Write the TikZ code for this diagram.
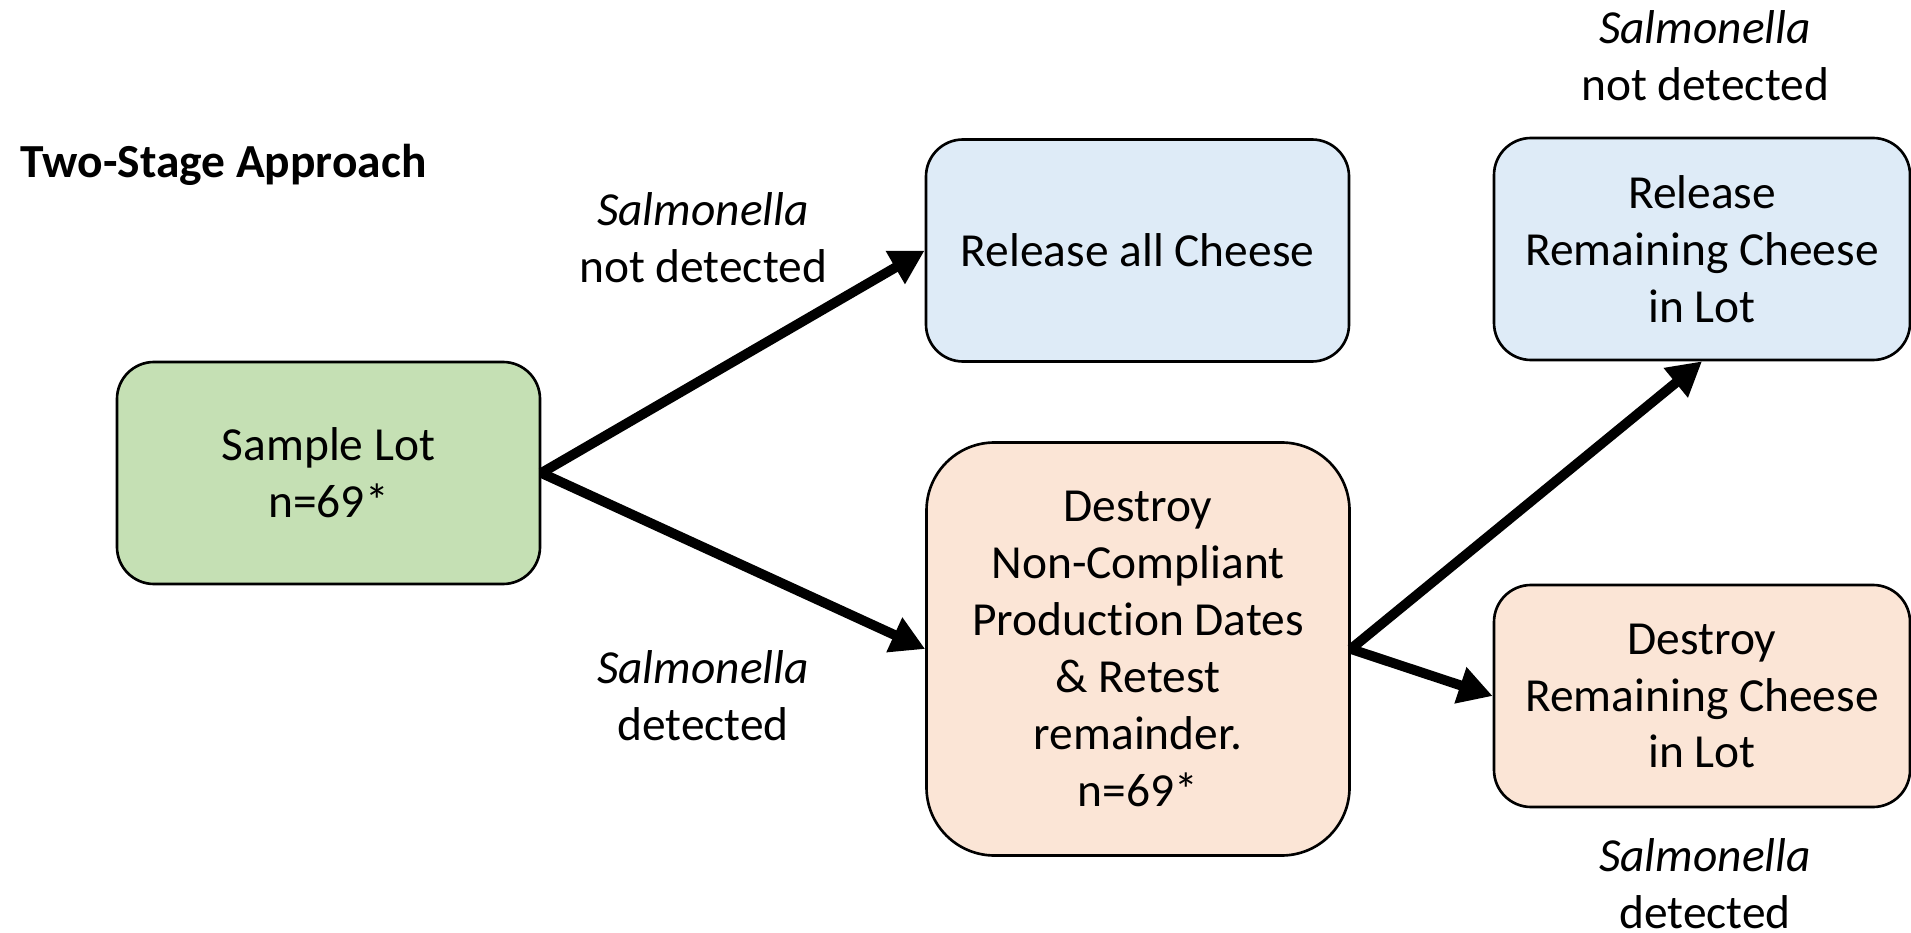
\documentclass[tikz,border=0pt]{standalone}
\usepackage{fontspec}
\setmainfont{Carlito}[Ligatures=NoCommon]
\usepackage{xcolor}
\usetikzlibrary{arrows.meta, positioning}
\definecolor{lotgreen}{HTML}{C5E0B4}
\definecolor{relblue}{HTML}{DEEBF7}
\definecolor{despeach}{HTML}{FBE5D6}

\begin{document}
\begin{tikzpicture}[
  font=\fontsize{13.5}{16.2}\selectfont,
  box/.style={draw=black, line width=0.75pt, rounded corners=0.37cm, align=center,
    inner sep=0pt, minimum width=4.23cm, minimum height=2.22cm},
  flow/.style={line width=2.8pt, -{Triangle[length=0.34cm, width=0.36cm]}},
  result/.style={align=center, inner sep=0pt}
]
  \useasboundingbox (0,0) rectangle (19.11,-9.33);

  % title
  \node[anchor=west, inner sep=0pt, font=\fontsize{13.5}{16.2}\selectfont\bfseries] (title) at (0.2,-1.65) {Two-Stage Approach};

  % first stage
  \node[box, fill=lotgreen] (lot) at (3.285,-4.73) {Sample Lot\\n=69*};
  \node[box, fill=relblue] (relall) at (11.375,-2.505) {Release all Cheese};
  \node[box, fill=despeach, minimum height=4.13cm, rounded corners=0.68cm] (retest) at (11.38,-6.49)
    {Destroy\\Non-Compliant\\Production Dates\\\& Retest\\remainder.\\n=69*};

  % second stage
  \node[box, fill=relblue, minimum width=4.16cm] (relrem) at (17.02,-2.49) {Release\\Remaining Cheese\\in Lot};
  \node[box, fill=despeach, minimum width=4.16cm] (desrem) at (17.02,-6.96) {Destroy\\Remaining Cheese\\in Lot};

  % outcome labels
  \node[result] (neg1) at (7.03,-2.38) {\textit{Salmonella}\\not detected};
  \node[result] (pos1) at (7.03,-6.96) {\textit{Salmonella}\\detected};
  \node[result] (neg2) at (17.05,-0.56) {\textit{Salmonella}\\not detected};
  \node[result] (pos2) at (17.05,-8.84) {\textit{Salmonella}\\detected};

  % arrows
  \draw[flow] (lot.east) -- (relall.west);
  \draw[flow] (lot.east) -- (retest.west);
  \draw[flow] (retest.east) -- (relrem.south);
  \draw[flow] (retest.east) -- (desrem.west);
\end{tikzpicture}
\end{document}
